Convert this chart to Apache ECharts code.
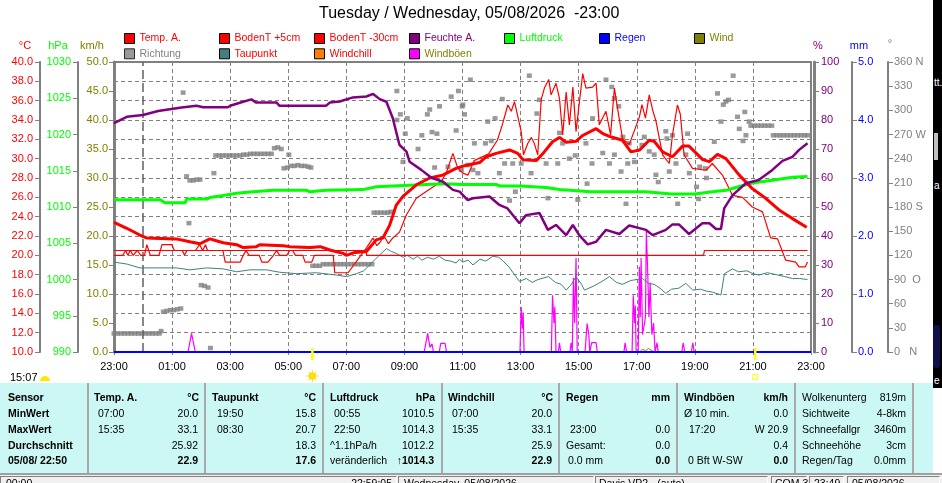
<!DOCTYPE html>
<html><head><meta charset="utf-8">
<script src="https://cdn.jsdelivr.net/npm/echarts@6/dist/echarts.min.js"></script>
<style>
html,body{margin:0;padding:0;background:#fff;width:942px;height:483px;overflow:hidden;font-family:"Liberation Sans",Arial,sans-serif;}
#chart{position:absolute;left:0;top:0;width:942px;height:483px;}
#tbl{position:absolute;left:0;top:383px;width:933px;height:90px;background:#cbf7f4;}
.c{position:absolute;font-size:10.5px;line-height:12px;color:#000;white-space:pre;}
.b{font-weight:bold;}
.sep{position:absolute;top:0;width:2px;height:90px;background:#a8a8a8;}
#line2{position:absolute;left:0;top:473px;width:942px;height:2px;background:#a0a0a0;}
#status{position:absolute;left:0;top:475px;width:942px;height:8px;background:#f0f0f0;overflow:hidden;}
.box{position:absolute;top:1px;height:20px;border-top:1px solid #808080;border-left:1px solid #808080;border-right:1px solid #fff;}
.st{position:absolute;top:2px;font-size:10.5px;line-height:12px;white-space:pre;color:#000;}
#strip{position:absolute;left:933px;top:0;width:9px;height:388px;background:#000;overflow:hidden;}
.sw{position:absolute;color:#fff;font-size:10px;white-space:pre;}
</style>
</head><body>
<div id="chart"></div>
<div id="tbl"></div>
<div id="line2"></div>
<div id="status"></div>
<div id="strip">
  <div class="sw" style="left:1px;top:77px">tt.</div>
  <div style="position:absolute;left:1px;top:133px;width:4px;height:27px;background:#c0c0c0"></div>
  <div class="sw" style="left:1px;top:180px">a</div>
  <div style="position:absolute;left:0;top:325px;width:7px;height:43px;background:#101048;border-radius:3px"></div>
  <div class="sw" style="left:1px;top:375px">e</div>
</div>
<script>
// ---------- data (x = hours since 23:00 of the previous day) ----------
const timeLabelsStartHour = 23;
const sunrise = 6.83;   // 05:50
const sunset = 22.08;   // 21:05

const tempA = [[0,23.4],[0.44,22.8],[0.89,22.1],[1.12,21.8],[2.15,21.7],[2.61,21.4],[2.96,21.2],[3.3,21.7],[3.76,21.3],[4.22,21.1],[4.45,20.8],[4.9,20.9],[5.02,21.1],[5.82,21.0],[6.05,20.9],[6.74,20.8],[7.1,20.9],[7.43,20.55],[7.89,20.2],[8.0,20.0],[8.3,20.3],[8.69,20.4],[9.03,21.6],[9.26,21.8],[9.49,23.1],[9.72,25.2],[9.95,26.1],[10.41,27.3],[10.87,28.0],[11.32,28.3],[11.78,29.0],[12.1,29.3],[12.59,29.6],[12.82,30.2],[13.16,30.55],[13.62,30.9],[13.9,30.55],[14.08,29.9],[14.54,29.8],[14.76,30.5],[15.1,31.75],[15.34,32.2],[15.57,31.7],[15.91,31.8],[16.14,32.4],[16.6,33.1],[16.83,32.6],[17.06,32.3],[17.51,31.9],[17.8,30.7],[18.1,30.9],[18.43,31.9],[18.6,31.8],[18.89,30.7],[19.23,30.2],[19.58,31.3],[19.8,31.3],[20.27,29.9],[20.5,29.7],[20.78,30.45],[21.07,30.0],[21.53,28.3],[21.98,26.9],[22.44,25.9],[22.9,24.7],[23.36,23.8],[23.85,22.9]];

// Windchill equals the outside temperature all day (see table)
const windchill = [[0,23.4],[0.44,22.8],[0.89,22.1],[1.12,21.8],[2.15,21.7],[2.61,21.4],[2.96,21.2],[3.3,21.7],[3.76,21.3],[4.22,21.1],[4.45,20.8],[4.9,20.9],[5.02,21.1],[5.82,21.0],[6.05,20.9],[6.74,20.8],[7.1,20.9],[7.43,20.55],[7.89,20.2],[8.0,20.0],[8.3,20.3],[8.69,20.4],[9.03,21.6],[9.26,21.8],[9.49,23.1],[9.72,25.2],[9.95,26.1],[10.41,27.3],[10.87,28.0],[11.32,28.3],[11.78,29.0],[12.1,29.3],[12.59,29.6],[12.82,30.2],[13.16,30.55],[13.62,30.9],[13.9,30.55],[14.08,29.9],[14.54,29.8],[14.76,30.5],[15.1,31.75],[15.34,32.2],[15.57,31.7],[15.91,31.8],[16.14,32.4],[16.6,33.1],[16.83,32.6],[17.06,32.3],[17.51,31.9],[17.8,30.7],[18.1,30.9],[18.43,31.9],[18.6,31.8],[18.89,30.7],[19.23,30.2],[19.58,31.3],[19.8,31.3],[20.27,29.9],[20.5,29.7],[20.78,30.45],[21.07,30.0],[21.53,28.3],[21.98,26.9],[22.44,25.9],[22.9,24.7],[23.36,23.8],[23.85,22.9]];

const bodenT5 = [[0,20.0],[0.3,20.0],[0.4,20.5],[0.48,20.0],[0.56,20.5],[0.66,20.0],[0.8,20.5],[0.92,20.0],[1.05,20.0],[1.13,21.1],[1.25,20.0],[1.55,20.0],[1.65,21.1],[1.99,21.1],[2.08,20.5],[2.35,20.5],[2.43,20.0],[2.51,20.5],[2.8,20.5],[2.95,21.1],[3.05,20.5],[3.15,21.1],[3.22,20.5],[3.75,20.5],[3.83,19.3],[4.35,19.3],[4.45,20.0],[4.55,20.5],[4.65,20.0],[5.0,20.0],[5.09,19.3],[5.3,19.3],[5.49,20.0],[5.6,20.5],[5.7,20.0],[5.95,20.0],[6.05,20.5],[6.15,20.5],[6.25,20.0],[6.5,20.0],[6.58,19.3],[6.81,19.3],[6.9,20.0],[7.55,20.0],[7.6,18.2],[8.06,18.2],[8.5,20.0],[8.7,20.8],[8.92,21.8],[9.05,21.0],[9.15,21.3],[9.3,22.0],[9.45,21.2],[9.6,21.8],[9.83,22.4],[10.07,24.2],[10.41,25.9],[10.75,26.6],[11.1,27.3],[11.3,27.8],[11.45,28.6],[11.67,30.55],[11.84,29.0],[12.01,28.5],[12.19,28.3],[12.4,29.8],[12.9,30.5],[13.2,31.9],[13.37,33.5],[13.56,35.55],[13.68,34.9],[13.79,35.9],[14.02,32.8],[14.1,30.4],[14.25,31.6],[14.37,32.2],[14.47,31.6],[14.59,30.4],[14.71,36.1],[14.82,37.3],[14.97,38.2],[15.05,36.6],[15.22,37.8],[15.34,36.2],[15.45,32.45],[15.57,36.9],[15.68,33.5],[15.8,37.4],[15.91,32.8],[16.0,35.2],[16.14,38.8],[16.25,37.3],[16.48,37.4],[16.6,37.8],[16.71,33.5],[16.94,34.9],[17.1,32.45],[17.23,37.3],[17.35,35.0],[17.51,32.1],[17.74,31.45],[18.09,34.3],[18.18,35.6],[18.3,34.2],[18.43,36.6],[18.55,35.0],[18.66,33.9],[18.89,30.4],[19.12,29.5],[19.23,32.45],[19.4,35.55],[19.5,34.6],[19.63,30.4],[19.92,29.0],[20.39,28.8],[20.6,29.5],[20.95,28.3],[21.3,26.2],[21.64,26.0],[21.98,25.0],[22.33,24.5],[22.61,21.8],[22.85,21.7],[23.13,19.5],[23.47,19.3],[23.59,18.8],[23.8,18.8],[23.88,19.3]];

const bodenT30 = [[0,20.5],[8.68,20.5],[8.7,20.0],[20.3,20.0],[20.33,20.5],[23.88,20.5]];

const taupunkt = [[0,19.3],[0.44,19.1],[0.89,18.7],[1.5,18.7],[2.15,18.7],[2.61,18.5],[3.19,18.7],[3.76,18.6],[4.22,18.3],[4.68,18.5],[5.25,18.5],[5.71,18.25],[6.28,18.1],[6.97,18.2],[7.66,17.96],[8.0,17.8],[8.35,18.1],[8.6,18.4],[8.8,19.0],[9.03,19.7],[9.38,20.7],[9.55,20.4],[9.72,20.2],[9.95,19.8],[10.1,20.0],[10.3,19.6],[10.45,19.9],[10.6,19.5],[10.8,19.8],[11.0,19.6],[11.2,19.9],[11.4,19.5],[11.6,19.4],[11.78,19.2],[11.9,19.6],[12.0,19.3],[12.2,19.5],[12.36,19.0],[12.6,19.6],[12.8,19.4],[13.04,19.9],[13.25,19.8],[13.4,19.4],[13.6,18.8],[13.96,17.3],[14.2,17.6],[14.4,17.2],[14.6,17.5],[14.96,17.8],[15.2,17.2],[15.4,17.0],[15.57,16.4],[15.75,17.0],[15.91,17.8],[16.1,17.0],[16.2,16.4],[16.5,16.8],[16.8,17.3],[17.06,17.8],[17.3,17.2],[17.51,17.0],[17.8,17.4],[18.2,17.6],[18.4,17.1],[18.6,17.0],[18.8,16.6],[19.0,16.07],[19.2,16.5],[19.45,16.6],[19.69,17.1],[19.93,16.4],[20.2,16.5],[20.39,16.3],[20.6,16.2],[20.9,15.9],[21.02,18.1],[21.3,18.6],[21.5,18.3],[21.8,18.4],[22.0,18.1],[22.2,17.96],[22.5,18.2],[22.8,18.0],[23.1,17.8],[23.36,17.6],[23.6,17.6],[23.88,17.5]];

const feuchte = [[0,78.9],[0.44,81.1],[1.0,81.7],[1.52,83.1],[2.33,84.3],[2.84,84.9],[3.07,84.4],[3.92,84.4],[4.0,84.9],[4.39,86.1],[4.73,87.1],[4.9,86.0],[5.6,86.0],[5.7,84.9],[7.3,84.9],[7.43,86.0],[7.77,86.4],[8.23,87.8],[8.69,88.1],[8.92,89.0],[9.15,87.2],[9.38,86.3],[9.6,80.6],[9.83,71.4],[10.07,69.1],[10.18,65.6],[10.58,62.8],[10.93,60.1],[11.33,58.7],[11.67,55.9],[11.9,55.3],[12.18,52.4],[12.36,53.0],[12.93,53.6],[13.27,50.7],[13.55,49.5],[13.96,44.4],[14.19,47.2],[14.65,47.9],[14.94,42.1],[15.22,43.8],[15.57,40.3],[15.8,43.8],[16.02,40.3],[16.31,37.1],[16.6,38.0],[16.94,42.1],[17.4,40.7],[17.74,43.6],[18.32,42.1],[18.55,40.3],[19.0,42.1],[19.23,44.0],[19.45,44.0],[19.8,40.7],[20.26,44.4],[20.5,44.4],[20.73,42.4],[20.9,42.4],[21.01,49.5],[21.3,54.1],[21.76,58.2],[22.2,59.3],[22.67,62.8],[23.02,65.9],[23.36,67.3],[23.59,69.7],[23.88,72.0]];

const luftdruck = [[0,1011.0],[1.6,1011.0],[1.75,1010.6],[2.45,1010.6],[2.5,1011.1],[3.19,1011.1],[3.3,1011.3],[3.76,1011.6],[4.22,1011.9],[4.79,1012.1],[5.48,1012.3],[6.63,1012.3],[6.75,1012.1],[7.0,1012.2],[7.3,1012.3],[8.57,1012.4],[9.03,1012.8],[10.18,1013.0],[11.33,1013.2],[12.0,1013.1],[13.15,1013.1],[13.3,1012.9],[14.0,1012.9],[14.88,1012.7],[15.34,1012.4],[16.4,1012.1],[18.3,1012.1],[19.2,1011.8],[20.0,1011.8],[20.6,1012.1],[21.07,1012.3],[21.5,1012.8],[21.98,1013.3],[22.67,1013.7],[23.36,1014.1],[23.88,1014.2]];

const regen = [[0,0],[24,0]];

const wind = [[0,0],[18.1,0],[18.2,0.5],[18.3,0.2],[18.4,0.6],[18.5,0.3],[18.6,0],[24,0]];

const windboeen = [[0,0],[2.55,0],[2.67,3.2],[2.72,3.2],[2.8,0],[10.68,0],[10.8,3.2],[10.88,0.8],[10.95,1.4],[11.0,0],[11.2,0],[11.25,1.5],[11.4,1.5],[11.45,0],[13.98,0],[14.02,7.8],[14.06,4.0],[14.09,6.8],[14.12,0],[15.06,0],[15.1,9.8],[15.15,5.0],[15.18,7.8],[15.22,0],[15.3,0],[15.34,1.6],[15.38,0],[15.7,0],[15.74,1.6],[15.78,0],[15.82,12.8],[15.86,5.0],[15.91,16.2],[15.95,0],[16.22,0],[16.29,4.9],[16.35,3.0],[16.38,0],[16.45,1.6],[16.6,1.6],[16.64,0],[17.56,0],[17.6,1.6],[17.65,0],[17.84,0],[17.88,9.8],[17.92,5.0],[17.95,8.0],[17.98,0],[18.05,0],[18.09,14.7],[18.12,6.0],[18.15,16.2],[18.2,3.0],[18.25,4.5],[18.3,6.0],[18.33,20.9],[18.37,15.0],[18.42,6.0],[18.46,12.0],[18.52,3.0],[18.58,5.0],[18.63,0],[18.7,1.6],[18.74,0],[19.55,0],[19.6,1.6],[19.65,0],[19.88,0],[19.93,1.6],[19.98,0],[24,0]];

const richtung = [
[0,23],[0.12,23],[0.24,23],[0.36,23],[0.48,23],[0.6,23],[0.72,23],[0.84,23],[0.96,23],[1.08,23],[1.2,23],[1.32,23],[1.44,23],[1.56,23],[1.62,26],
[1.7,50],[1.82,51],[1.94,52],[2.06,52],[2.18,53],[2.3,54],
[2.38,322],[2.5,218],[2.58,160],
[2.61,213],[2.73,213],[2.85,214],[2.96,214],
[3.0,83],[3.12,82],[3.24,80],[3.32,5],[3.44,222],
[3.5,244],[3.62,244],[3.74,244],[3.86,244],[3.98,244],[4.1,244],[4.22,244],[4.34,244],[4.46,245],[4.58,245],[4.7,246],[4.82,246],[4.94,246],[5.06,246],[5.18,246],[5.3,246],[5.42,246],
[5.52,253],[5.64,254],[5.76,252],[6.02,245],
[5.85,228],[5.97,229],[6.09,231],[6.21,231],[6.33,232],[6.45,231],[6.57,231],[6.69,230],[6.78,229],
[6.84,107],[6.96,107],[7.08,107],[7.2,109],[7.32,109],[7.44,109],[7.56,109],[7.68,109],[7.8,109],[7.92,109],[8.04,109],[8.16,109],[8.28,109],[8.4,109],[8.52,109],[8.64,109],[8.76,109],[8.88,109],
[8.95,173],[9.07,173],[9.19,173],[9.31,173],[9.43,173],[9.53,174],
[9.74,324],[9.86,295],[9.74,288],[10.1,290],[10.03,271],[9.95,236],[10.47,252],[10.6,269],[10.79,295],[10.87,301],[10.95,273],[11.04,229],[11.12,271],[11.21,305],[11.61,317],[11.5,230],[11.78,275],[11.86,324],[11.99,305],[12.07,295],[11.96,226],[12.18,232],
[12.01,307],[12.27,338],[12.41,259],[12.36,226],[12.53,222],[12.79,259],[12.87,286],[12.99,262],[13.12,290],[13.37,314],[13.27,222],[13.45,234],[13.73,234],[13.62,188],[13.82,199],[14.02,234],[14.3,343],[14.36,222],[14.56,296],[14.65,313],[14.94,191],[14.88,234],[15.28,234],[15.45,259],[15.34,272],[15.68,240],[15.88,244],[15.97,189],[16.25,259],[16.29,209],[16.48,290],[16.46,234],[16.83,247],[16.94,338],[17.06,234],[17.14,329],[17.23,315],[17.38,305],[17.23,245],[17.52,267],[17.46,224],[17.63,184],[17.69,234],[17.74,259],[17.92,236],[18.18,257],[18.26,267],[18.43,249],[18.6,245],[18.66,220],[18.74,211],[19.0,274],[19.04,265],[19.12,224],[19.23,269],[19.41,184],[19.35,234],[19.75,271],[19.69,245],[19.81,222],[20.06,205],[20.13,190],[20.17,230],[20.36,228],[20.4,216],[20.67,261],[20.78,321],[20.9,286],[20.98,307],[21.07,311],[21.16,313],[21.32,343],[21.47,292],[21.53,277],[21.72,298],[21.76,269],[21.66,262],[21.87,286],
[21.93,281],[22.05,281],[22.17,281],[22.29,281],[22.41,281],[22.53,281],[22.65,281],
[22.7,269],[22.82,269],[22.94,269],[23.06,269],[23.18,269],[23.3,269],[23.42,269],[23.54,269],[23.66,269],[23.78,269],[23.88,269]
];

const dirNames = {0:'0   N', 90:'90  O', 180:'180 S', 270:'270 W', 360:'360 N'};

// bottom table: [x, row, text, align, bold]
const tableCells = [
 [8,0,'Sensor','l',1],[8,1,'MinWert','l',1],[8,2,'MaxWert','l',1],[8,3,'Durchschnitt','l',1],[8,4,'05/08/ 22:50','l',1],
 [94,0,'Temp. A.','l',1],[199,0,'°C','r',1],[98,1,'07:00','l',0],[198,1,'20.0','r',0],[98,2,'15:35','l',0],[198,2,'33.1','r',0],[198,3,'25.92','r',0],[198,4,'22.9','r',1],
 [212,0,'Taupunkt','l',1],[316,0,'°C','r',1],[217,1,'19:50','l',0],[316,1,'15.8','r',0],[217,2,'08:30','l',0],[316,2,'20.7','r',0],[316,3,'18.3','r',0],[316,4,'17.6','r',1],
 [330,0,'Luftdruck','l',1],[435,0,'hPa','r',1],[334,1,'00:55','l',0],[434,1,'1010.5','r',0],[334,2,'22:50','l',0],[434,2,'1014.3','r',0],[330,3,'^1.1hPa/h','l',0],[434,3,'1012.2','r',0],[330,4,'veränderlich','l',0],[434,4,'↑1014.3','r',1],
 [448,0,'Windchill','l',1],[553,0,'°C','r',1],[452,1,'07:00','l',0],[552,1,'20.0','r',0],[452,2,'15:35','l',0],[552,2,'33.1','r',0],[552,3,'25.9','r',0],[552,4,'22.9','r',1],
 [566,0,'Regen','l',1],[670,0,'mm','r',1],[570,2,'23:00','l',0],[670,2,'0.0','r',0],[566,3,'Gesamt:','l',0],[670,3,'0.0','r',0],[568,4,'0.0 mm','l',0],[670,4,'0.0','r',1],
 [684,0,'Windböen','l',1],[788,0,'km/h','r',1],[684,1,'Ø 10 min.','l',0],[788,1,'0.0','r',0],[689,2,'17:20','l',0],[788,2,'W 20.9','r',0],[788,3,'0.4','r',0],[688,4,'0 Bft W-SW','l',0],[788,4,'0.0','r',1],
 [802,0,'Wolkenunterg','l',0],[906,0,'819m','r',0],[802,1,'Sichtweite','l',0],[906,1,'4-8km','r',0],[802,2,'Schneefallgr','l',0],[906,2,'3460m','r',0],[802,3,'Schneehöhe','l',0],[906,3,'3cm','r',0],[802,4,'Regen/Tag','l',0],[906,4,'0.0mm','r',0]
];
const tableSeparators = [88,205,323,442,559,677,795,913];
const statusCells = [[6,'00:00','l'],[392,'22:59:05','r'],[404,'Wednesday, 05/08/2026','l'],[599,'Davis VP2 - (auto)','l'],[775,'COM 3','l'],[814,'23:49','l'],[852,'05/08/2026','l']];
const statusBoxes = [[0,397],[398,594],[595,768],[771,807],[809,844],[847,940]];

// ---------- table (HTML text) ----------
const rowCenters = [14,30,46,61.5,77];
const tbl = document.getElementById('tbl');
tableSeparators.forEach(x => { const d=document.createElement('div'); d.className='sep'; d.style.left=(x-1)+'px'; tbl.appendChild(d); });
tableCells.forEach(([x,r,t,a,b]) => {
  const d=document.createElement('div'); d.className='c'+(b?' b':''); d.textContent=t;
  d.style.top=(rowCenters[r]-6)+'px';
  if(a==='l'){ d.style.left=x+'px'; } else { d.style.right=(933-x)+'px'; }
  tbl.appendChild(d);
});
const st = document.getElementById('status');
statusBoxes.forEach(([a,b]) => { const d=document.createElement('div'); d.className='box'; d.style.left=a+'px'; d.style.width=(b-a-2)+'px'; st.appendChild(d); });
statusCells.forEach(([x,t,a]) => { const d=document.createElement('div'); d.className='st'; d.textContent=t; if(a==='l') d.style.left=x+'px'; else d.style.right=(942-x)+'px'; st.appendChild(d); });

// ---------- chart ----------
const FF = "'Liberation Sans', Arial, sans-serif";
const GRAY = '#808080';
const chart = echarts.init(document.getElementById('chart'), null, {renderer:'canvas'});

function yAx(o){
  return Object.assign({
    type:'value', position:o.pos, offset:o.off, min:o.min, max:o.max, interval:o.int,
    axisLine:{show:true, onZero:false, lineStyle:{color:GRAY, width:o.lw||2}},
    axisTick:{show:true, length:5, lineStyle:{color:GRAY, width:1}},
    axisLabel:{color:o.color, fontSize:11, fontFamily:FF, margin:o.margin||7, formatter:o.fmt},
    splitLine:{show:false}
  }, o.extra||{});
}
function lg(left, items){
  return {orient:'vertical', left:left, top:33, padding:0, itemGap:4.3, itemWidth:10, itemHeight:10,
    icon:'rect', selectedMode:false,
    itemStyle:{borderColor:'#000', borderWidth:1},
    textStyle:{fontSize:10.5, lineHeight:10, fontFamily:FF, padding:[0,0,0,0]},
    data: items.map(([n,c]) => ({name:n, textStyle:{color:c}}))};
}
function line(name, data, color, width, yAxisIndex, z){
  return {name, type:'line', data, yAxisIndex, xAxisIndex:0, symbol:'none', showSymbol:false,
    lineStyle:{color, width}, itemStyle:{color}, z:z, animation:false, silent:true};
}

const option = {
  animation:false,
  backgroundColor:'#ffffff',
  title:{text:'Tuesday / Wednesday, 05/08/2026  -23:00', left:319, top:6, padding:0,
    textStyle:{fontSize:16, fontWeight:'normal', color:'#000', fontFamily:FF}},
  legend:[
    lg(124, [['Temp. A.','#ff0000'],['Richtung','#808080']]),
    lg(219, [['BodenT +5cm','#ff0000'],['Taupunkt','#ff0000']]),
    lg(314, [['BodenT -30cm','#ff0000'],['Windchill','#ff0000']]),
    lg(409, [['Feuchte A.','#800080'],['Windböen','#808000']]),
    lg(504, [['Luftdruck','#00ff00']]),
    lg(599, [['Regen','#0000ff']]),
    lg(694, [['Wind','#808000']])
  ],
  grid:{left:114, right:131, top:62, bottom:131, show:true, borderColor:GRAY, borderWidth:2, backgroundColor:'transparent'},
  xAxis:{type:'value', min:0, max:24, interval:2,
    axisLine:{show:true, onZero:false, lineStyle:{color:GRAY, width:1}},
    axisTick:{show:true, length:3, lineStyle:{color:GRAY}},
    axisLabel:{color:'#000', fontSize:11, fontFamily:FF, margin:9,
      formatter:v => String((timeLabelsStartHour+v)%24).padStart(2,'0')+':00'},
    splitLine:{show:true, lineStyle:{color:GRAY, type:[4,3], width:1}}},
  yAxis:[
    yAx({pos:'left', off:74, min:10, max:40, int:2, color:'#ff0000', fmt:v=>v.toFixed(1),
      extra:{splitLine:{show:true, lineStyle:{color:GRAY, type:[4,3], width:1}}}}),
    yAx({pos:'left', off:36, min:990, max:1030, int:5, color:'#00ff00', fmt:v=>String(v)}),
    yAx({pos:'left', off:0, min:0, max:50, int:5, color:'#808000', fmt:v=>v.toFixed(1), lw:3, margin:6}),
    yAx({pos:'right', off:3, min:0, max:100, int:10, color:'#800080', fmt:v=>String(v), lw:3}),
    yAx({pos:'right', off:41, min:0, max:5, int:1, color:'#0000ff', fmt:v=>v.toFixed(1), margin:6}),
    yAx({pos:'right', off:77, min:0, max:360, int:30, color:'#808080', fmt:v=>dirNames[v]!==undefined?dirNames[v]:String(v), margin:6})
  ],
  series:[
    {name:'Richtung', type:'scatter', data:richtung, xAxisIndex:0, yAxisIndex:5, symbol:'rect', symbolSize:[5,4.5],
      itemStyle:{color:'#808080'}, z:2, silent:true, animation:false},
    line('Windböen', windboeen, '#ff00ff', 1.2, 2, 3),
    line('Wind', wind, '#808000', 1, 2, 3),
    line('Taupunkt', taupunkt, '#408080', 1, 0, 4),
    line('BodenT -30cm', bodenT30, '#ff0000', 1.2, 0, 4),
    line('BodenT +5cm', bodenT5, '#ff0000', 1.2, 0, 5),
    line('Windchill', windchill, '#ff8000', 2, 0, 5),
    line('Luftdruck', luftdruck, '#00ff00', 3, 1, 6),
    Object.assign(line('Temp. A.', tempA, '#ff0000', 3, 0, 7), {
      markLine:{silent:true, symbol:['none','none'], label:{show:false}, animation:false,
        lineStyle:{color:'#606060', type:[9,4], width:1.5}, data:[{xAxis:1}]}}),
    line('Regen', regen, '#0000ff', 2, 4, 8),
    line('Feuchte A.', feuchte, '#800080', 2.5, 3, 9)
  ]
};
chart.setOption(option);

// decorations (sunrise / sunset markers, unit labels)
const pRise = chart.convertToPixel({xAxisIndex:0, yAxisIndex:0}, [sunrise, 10]);
const pSet = chart.convertToPixel({xAxisIndex:0, yAxisIndex:0}, [sunset, 10]);
const txt = (x,y,t,c,al) => ({type:'text', x, y, z:50, style:{text:t, fill:c, fontSize:11, fontFamily:FF, align:al||'center', verticalAlign:'middle'}});
const rays = [];
for (let i=0;i<8;i++){ const a=i*Math.PI/4; rays.push({type:'line', z:50, shape:{x1:pRise[0]+Math.cos(a)*4, y1:376+Math.sin(a)*4, x2:pRise[0]+Math.cos(a)*6, y2:376+Math.sin(a)*6}, style:{stroke:'#ffe000', lineWidth:1}}); }
chart.setOption({graphic:[
  txt(25,46,'°C','#ff0000'), txt(58,46,'hPa','#00ff00'), txt(92,46,'km/h','#808000'),
  txt(818,46,'%','#800080'), txt(859,46,'mm','#0000ff'), txt(890,44,'°','#808080'),
  txt(10,378,'15:07','#000','left'),
  {type:'sector', z:50, shape:{cx:45, cy:381, r:5, r0:0, startAngle:Math.PI, endAngle:2*Math.PI}, style:{fill:'#ffe800'}},
  {type:'line', z:50, shape:{x1:pRise[0], y1:pRise[1]-4, x2:pRise[0], y2:pRise[1]+8}, style:{stroke:'#ffff00', lineWidth:2.5}},
  {type:'line', z:50, shape:{x1:pSet[0], y1:pSet[1]-4, x2:pSet[0], y2:pSet[1]+8}, style:{stroke:'#ffff00', lineWidth:2.5}},
  {type:'circle', z:50, shape:{cx:pRise[0], cy:376, r:3.5}, style:{fill:'#ffe000', stroke:'#ffc000', lineWidth:0.5}},
  ...rays,
  {type:'rect', z:50, shape:{x:pSet[0]-2.5, y:374.5, width:5, height:5}, style:{fill:'none', stroke:'#ffff00', lineWidth:1}}
]});
</script>
</body></html>
